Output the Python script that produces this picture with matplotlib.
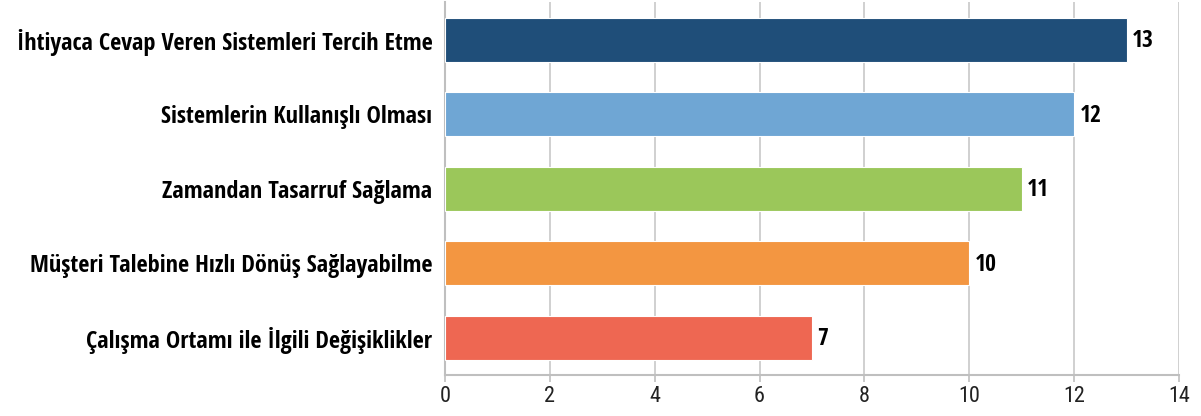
import matplotlib
matplotlib.use("Agg")
import matplotlib.pyplot as plt

categories = [
    "İhtiyaca Cevap Veren Sistemleri Tercih Etme",
    "Sistemlerin Kullanışlı Olması",
    "Zamandan Tasarruf Sağlama",
    "Müşteri Talebine Hızlı Dönüş Sağlayabilme",
    "Çalışma Ortamı ile İlgili Değişiklikler",
]
values = [13, 12, 11, 10, 7]
colors = ["#1F4E79", "#6FA6D4", "#9BC75A", "#F39641", "#EE6752"]
xticks = [0, 2, 4, 6, 8, 10, 12, 14]

font = ["Open Sans Condensed", "DejaVu Sans"]
tick_font = ["Roboto Condensed", "DejaVu Sans"]

fig = plt.figure(figsize=(12.01, 4.16), dpi=100)
ax = fig.add_axes([0.3705, 0.0985, 0.6112, 0.8955])

ypos = list(range(len(categories)))
ax.barh(ypos, values, height=0.59, color=colors, edgecolor="white", linewidth=0.8, zorder=3)
ax.set_ylim(len(categories) - 0.5, -0.5)
ax.set_xlim(0, 14)

# value labels at the bar ends
for y, v in zip(ypos, values):
    ax.text(v + 0.1, y + 0.02, str(v), va="center", ha="left", fontsize=17,
            fontweight="bold", family=font, zorder=4)

ax.set_yticks(ypos)
ax.set_yticklabels(categories, fontsize=17.5, fontweight="bold", family=font)
ax.tick_params(axis="y", length=0, pad=9)

ax.set_xticks(xticks)
ax.set_xticklabels([str(t) for t in xticks], fontsize=16, fontweight="normal", family=tick_font)
ax.tick_params(axis="x", length=5, color="#BFBFBF", width=1.2, pad=3, labelcolor="#222222")

ax.grid(axis="x", color="#C8C8C8", linewidth=1.2, zorder=0)
for side in ["top", "right"]:
    ax.spines[side].set_visible(False)
for side in ["left", "bottom"]:
    ax.spines[side].set_color("#BFBFBF")
    ax.spines[side].set_linewidth(1.5)

fig.savefig("out.png", dpi=100)
